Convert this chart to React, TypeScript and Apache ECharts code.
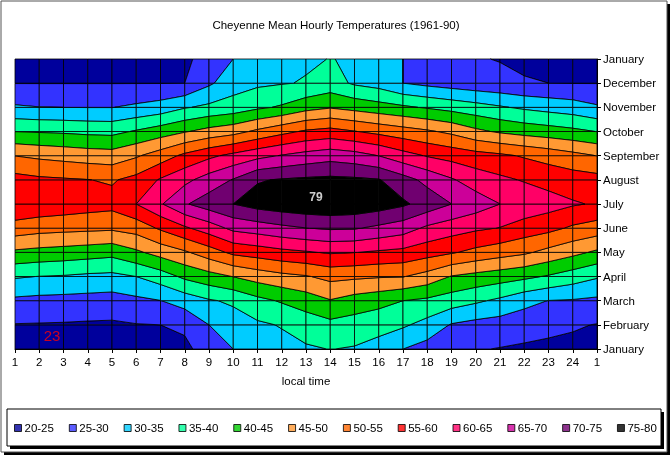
import React, { useEffect, useRef } from 'react';
import * as echarts from 'echarts';

const FONT = 'Liberation Sans, Arial, Helvetica, sans-serif';

const hourLabels = ['1','2','3','4','5','6','7','8','9','10','11','12','13','14','15','16','17','18','19','20','21','22','23','24','1'];
const monthLabels = ['January','February','March','April','May','June','July','August','September','October','November','December','January'];
const bandLabels = ['20-25','25-30','30-35','35-40','40-45','45-50','50-55','55-60','60-65','65-70','70-75','75-80'];
const bandEdges = [20,25,30,35,40,45,50,55,60,65,70,75,80];
const bandColors = ['#00009c','#3333ff','#00ccff','#00ff99','#00cc00','#ff9933','#ff6600','#ff0000','#ff0066','#cc0099','#700070','#000000'];

// Mean hourly temperatures (°F), hours 1..24 then 1 again
const jan = [23.5,23.3,23.1,23.0,23.0,23.2,23.6,24.0,27.0,30.0,32.2,33.5,34.4,35.1,34.6,33.2,30.0,28.0,26.5,25.3,24.8,24.3,24.0,23.8,23.5];
const feb = [24.8,24.7,24.6,24.4,24.3,24.8,25.0,25.8,30.0,32.6,34.2,35.3,37.2,38.6,37.8,36.7,35.7,33.3,29.6,28.4,27.8,27.1,26.2,25.5,24.8];
const mar = [29.0,28.6,28.4,28.2,27.9,28.9,29.9,32.2,34.5,35.8,38.6,40.5,42.4,44.7,42.9,41.7,40.0,39.0,37.5,35.8,34.0,31.5,29.9,29.6,29.0];
const apr = [35.5,34.9,34.6,34.0,33.7,35.0,37.5,41.0,43.1,45.1,47.1,48.6,49.6,51.4,50.9,50.4,50.2,48.1,44.7,43.4,42.3,41.1,39.5,37.5,35.5];
const may = [44.1,43.4,42.9,42.3,41.6,44.1,46.9,49.3,52.6,56.1,57.3,58.6,59.5,60.5,60.1,59.3,58.6,57.0,55.5,53.6,52.1,50.8,48.5,46.4,44.1];
const jun = [52.8,51.8,51.4,51.1,50.8,52.0,55.7,59.2,62.4,66.2,67.4,68.8,69.9,70.6,70.4,68.9,67.3,64.0,62.2,60.8,59.8,57.7,56.4,54.2,52.8];
const jul = [59.5,58.7,58.0,57.2,56.6,60.0,64.5,69.5,72.5,75.0,77.0,78.0,78.7,79.0,78.5,77.5,75.8,73.0,70.0,67.5,65.0,63.5,62.0,60.5,59.5];
const aug = [56.8,55.9,55.5,55.1,54.5,56.5,60.5,63.7,67.2,70.3,74.6,75.4,75.9,76.2,75.9,75.3,72.0,68.6,65.5,62.7,61.0,59.6,58.3,57.4,56.8];
const sep = [49.9,49.0,48.3,47.6,47.2,49.4,52.4,56.1,58.9,61.3,63.5,65.3,66.8,68.0,67.0,64.9,61.9,59.6,58.2,56.9,55.9,54.5,53.1,51.5,49.9];
const oct = [39.9,39.6,39.3,38.8,38.6,40.5,42.5,44.6,46.7,48.2,51.0,53.5,55.7,56.7,55.2,53.6,52.1,50.7,48.9,46.1,44.3,43.1,42.2,41.2,39.9];
const nov = [30.6,30.1,30.0,29.9,29.9,30.9,32.1,34.6,36.0,37.1,39.1,40.6,43.2,44.6,43.3,42.0,40.8,39.5,38.2,36.9,35.5,34.2,33.2,32.3,30.6];
const dec = [24.9,24.9,24.9,24.9,24.9,24.9,24.9,25.0,29.2,32.8,34.1,34.7,35.3,37.0,34.3,33.0,30.0,28.7,27.7,26.8,26.2,25.3,25.0,24.9,24.9];

const temperatureRows = [jan, feb, mar, apr, may, jun, jul, aug, sep, oct, nov, dec, jan];

type P = { x: number; y: number; v: number };

function clip(poly: P[], t: number, keepAbove: boolean): P[] {
  const out: P[] = [];
  const keep = (v: number) => (keepAbove ? v >= t : v <= t);
  for (let k = 0; k < poly.length; k++) {
    const a = poly[k];
    const b = poly[(k + 1) % poly.length];
    const ain = keep(a.v);
    const bin = keep(b.v);
    if (ain) out.push(a);
    if (ain !== bin) {
      const f = (t - a.v) / (b.v - a.v);
      out.push({ x: a.x + f * (b.x - a.x), y: a.y + f * (b.y - a.y), v: t });
    }
  }
  return out;
}

export default function App() {
  const ref = useRef<HTMLDivElement>(null);
  useEffect(() => {
    if (!ref.current) return;
    const chart = echarts.init(ref.current, undefined, { renderer: 'svg' });

    const cells: number[][] = [];
    for (let j = 0; j < temperatureRows.length - 1; j++) {
      for (let i = 0; i < hourLabels.length - 1; i++) {
        cells.push([i, j, temperatureRows[j][i], temperatureRows[j][i + 1], temperatureRows[j + 1][i + 1], temperatureRows[j + 1][i]]);
      }
    }
    let minV = Infinity, maxV = -Infinity;
    temperatureRows.forEach((row) => row.forEach((v) => {
      if (v < minV) minV = v;
      if (v > maxV) maxV = v;
    }));

    const legendSeries = bandLabels.map((name, k) => ({
      type: 'scatter',
      name,
      data: [],
      itemStyle: { color: bandColors[k] },
    }));

    const option: any = {
      animation: false,
      title: {
        text: 'Cheyenne Mean Hourly Temperatures (1961-90)',
        left: 'center',
        top: 14,
        textStyle: { fontSize: 11.5, fontWeight: 'normal', color: '#000', fontFamily: FONT },
      },
      grid: { left: 15, top: 59, width: 582, height: 290 },
      xAxis: {
        type: 'value', min: 0, max: 24, interval: 1,
        axisLine: { show: true, onZero: false, lineStyle: { color: '#000', width: 1 } },
        axisTick: { show: true, length: 4, lineStyle: { color: '#000' } },
        axisLabel: { formatter: (v: number) => hourLabels[v], color: '#000', fontSize: 11.5, margin: 7, fontFamily: FONT },
        splitLine: { show: false },
        name: 'local time', nameLocation: 'middle', nameGap: 26,
        nameTextStyle: { fontSize: 11.5, color: '#000', fontFamily: FONT },
      },
      yAxis: {
        type: 'value', min: 0, max: 12, interval: 1, position: 'right',
        axisLine: { show: true, onZero: false, lineStyle: { color: '#000', width: 1 } },
        axisTick: { show: true, length: 4, lineStyle: { color: '#000' } },
        axisLabel: { formatter: (v: number) => monthLabels[v], color: '#000', fontSize: 11.5, margin: 6, fontFamily: FONT },
        splitLine: { show: false },
      },
      legend: {
        data: bandLabels,
        left: 14, top: 422, width: 654,
        padding: 0,
        itemWidth: 7, itemHeight: 7, itemGap: 14.9,
        icon: 'rect',
        selectedMode: false,
        itemStyle: { borderColor: '#000', borderWidth: 1 },
        textStyle: { fontSize: 11.5, color: '#000', fontFamily: FONT, padding: [0, 0, 0, -2] },
      },
      graphic: [
        { type: 'rect', z: 0, shape: { x: 4, y: 4, width: 666, height: 451 }, style: { fill: '#000' } },
        { type: 'rect', z: 0, shape: { x: 1, y: 1, width: 666, height: 451 }, style: { fill: '#fff', stroke: '#555', lineWidth: 1 } },
        { type: 'rect', z: 0, shape: { x: 10, y: 412, width: 654, height: 37 }, style: { fill: '#000' } },
        { type: 'rect', z: 0, shape: { x: 7, y: 409, width: 654, height: 37 }, style: { fill: '#fff', stroke: '#000', lineWidth: 1 } },
      ],
      series: [
        {
          type: 'custom',
          name: 'temperature',
          silent: true,
          encode: { x: 0, y: 1 },
          data: cells,
          renderItem: (params: any, api: any) => {
            const i = api.value(0), j = api.value(1);
            const poly: P[] = [
              { x: i, y: j, v: api.value(2) },
              { x: i + 1, y: j, v: api.value(3) },
              { x: i + 1, y: j + 1, v: api.value(4) },
              { x: i, y: j + 1, v: api.value(5) },
            ];
            const children: any[] = [];
            for (let b = 0; b < bandColors.length; b++) {
              let p = poly;
              if (b > 0) p = clip(p, bandEdges[b], true);
              if (b < bandColors.length - 1) p = clip(p, bandEdges[b + 1], false);
              if (p.length >= 3) {
                children.push({
                  type: 'polygon',
                  shape: { points: p.map((q) => api.coord([q.x, q.y])) },
                  style: { fill: bandColors[b], stroke: '#000', lineWidth: 0.8 },
                });
              }
            }
            return { type: 'group', children };
          },
        },
        {
          type: 'scatter',
          name: 'min',
          symbolSize: 0,
          silent: true,
          z: 10,
          data: [[1.53, 0.54, Math.round(minV)]],
          label: { show: true, position: 'inside', formatter: (p: any) => String(p.value[2]), color: '#ff0000', fontSize: 15, fontFamily: FONT },
        },
        {
          type: 'scatter',
          name: 'max',
          symbolSize: 0,
          silent: true,
          z: 10,
          data: [[12.41, 6.29, Math.round(maxV)]],
          label: { show: true, position: 'inside', formatter: (p: any) => String(p.value[2]), color: '#ffffff', fontSize: 12, fontWeight: 'bold', fontFamily: FONT },
        },
        ...legendSeries,
      ],
    };
    chart.setOption(option);
    return () => chart.dispose();
  }, []);
  return <div ref={ref} style={{ position: 'fixed', left: 0, top: 0, width: 672, height: 460 }} />;
}
